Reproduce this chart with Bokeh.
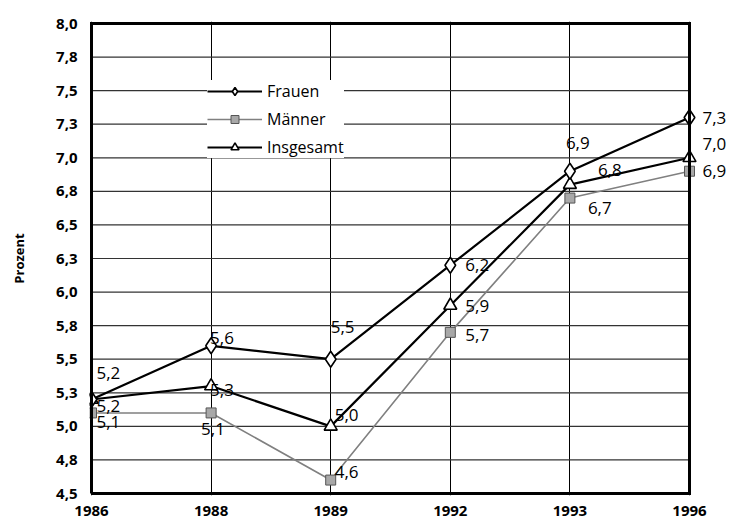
from bokeh.plotting import figure
from bokeh.models import (ColumnDataSource, Range1d, FixedTicker, Label,
                          Legend, LegendItem)
from bokeh.embed import file_html
from bokeh.resources import INLINE

# ---- data ----
years = ["1986", "1988", "1989", "1992", "1993", "1996"]
frauen = [5.2, 5.6, 5.5, 6.2, 6.9, 7.3]
maenner = [5.1, 5.1, 4.6, 5.7, 6.7, 6.9]
insgesamt = [5.2, 5.3, 5.0, 5.9, 6.8, 7.0]
y_ticks = [4.5, 4.75, 5.0, 5.25, 5.5, 5.75, 6.0, 6.25, 6.5, 6.75, 7.0, 7.25, 7.5, 7.75, 8.0]
y_tick_labels = ["4,5", "4,8", "5,0", "5,3", "5,5", "5,8", "6,0", "6,3", "6,5", "6,8",
                 "7,0", "7,3", "7,5", "7,8", "8,0"]

# label placement (screen px offsets)
frauen_dx = [5, -1, 0, 15, -4, 13]
frauen_dy = [27, 8, 32, 0, 28, 0]
maenner_dx = [5, -10, 4, 15, 18, 13]
maenner_dy = [-9, -16, 8, -3, -10, 0]
insg_dx = [5, -1, 4, 15, 28, 13]
insg_dy = [-6, -4, 11, 0, 15, 14]

FONT = "Open Sans"
xs = list(range(len(years)))

def fmt(v):
    return ("%.1f" % v).replace(".", ",")

# layout: plot box 598x470 px, frame padded so border and right labels are not clipped
PW, PH = 598, 470
PAD_L, PAD_R, PAD_V = 2, 42, 2
ux = PW / (xs[-1] - xs[0])
uy = PH / (y_ticks[-1] - y_ticks[0])
x_rng = Range1d(xs[0] - PAD_L / ux, xs[-1] + PAD_R / ux)
y_rng = Range1d(y_ticks[0] - PAD_V / uy, y_ticks[-1] + PAD_V / uy)

p = figure(frame_width=PW + PAD_L + PAD_R, frame_height=PH + 2 * PAD_V,
           output_backend="svg", toolbar_location=None,
           x_range=x_rng, y_range=y_rng,
           min_border_left=89, min_border_right=0, min_border_top=21, min_border_bottom=24)
p.background_fill_color = "white"
p.border_fill_color = "white"
p.outline_line_color = None

# axes
p.xaxis.ticker = FixedTicker(ticks=xs)
p.xaxis.major_label_overrides = {i: y for i, y in enumerate(years)}
p.yaxis.ticker = FixedTicker(ticks=y_ticks)
p.yaxis.major_label_overrides = {t: l for t, l in zip(y_ticks, y_tick_labels)}
for ax in (p.xaxis[0], p.yaxis[0]):
    ax.axis_line_color = None
    ax.major_tick_line_color = None
    ax.minor_tick_line_color = None
    ax.major_label_text_font = FONT
    ax.major_label_text_font_style = "bold"
    ax.major_label_text_font_size = "15px"
    ax.major_label_text_color = "black"
p.xaxis.major_label_standoff = 4
p.yaxis.major_label_standoff = 6
p.yaxis.axis_label = "Prozent"
p.yaxis.axis_label_text_font = FONT
p.yaxis.axis_label_text_font_style = "bold"
p.yaxis.axis_label_text_font_size = "13px"
p.yaxis.axis_label_text_color = "black"
p.yaxis.axis_label_standoff = 25

p.xgrid.grid_line_color = "black"
p.xgrid.grid_line_width = 1
p.ygrid.visible = False

# horizontal grid lines limited to the plot box
p.segment(x0=[xs[0]] * len(y_ticks), x1=[xs[-1]] * len(y_ticks), y0=y_ticks, y1=y_ticks,
          line_color="#333333", line_width=1.2)

src = ColumnDataSource(dict(x=xs, f=frauen, m=maenner, g=insgesamt))

ml = p.line("x", "m", source=src, line_color="#808080", line_width=1.6)
ms = p.scatter("x", "m", source=src, marker="square", size=10, fill_color="#a8a8a8",
               line_color="#555555", line_width=1)
gl = p.line("x", "g", source=src, line_color="black", line_width=2.2)
gs = p.scatter("x", "g", source=src, marker="triangle", size=13, fill_color="white",
               line_color="black", line_width=1.6)
fl = p.line("x", "f", source=src, line_color="black", line_width=2.2)
fs = p.scatter("x", "f", source=src, marker="diamond", size=16, fill_color="white",
               line_color="black", line_width=1.6)

# plot box border
bx = [xs[0], xs[0], xs[-1], xs[-1], xs[0]]
by = [y_ticks[0], y_ticks[-1], y_ticks[-1], y_ticks[0], y_ticks[0]]
p.line(bx, by, line_color="black", line_width=3, line_join="miter")

for vals, dxs, dys in ((frauen, frauen_dx, frauen_dy), (maenner, maenner_dx, maenner_dy),
                       (insgesamt, insg_dx, insg_dy)):
    for x, v, dx, dy in zip(xs, vals, dxs, dys):
        p.add_layout(Label(x=x, y=v, text=fmt(v), x_offset=dx, y_offset=dy,
                           text_font=FONT, text_font_size="17px", text_color="black",
                           text_align="left", text_baseline="middle"))

legend = Legend(items=[LegendItem(label="Frauen", renderers=[fl, fs]),
                       LegendItem(label="Männer", renderers=[ml, ms]),
                       LegendItem(label="Insgesamt", renderers=[gl, gs])],
                location=(118, 337), glyph_width=55, glyph_height=20, label_height=20,
                spacing=6, padding=5, label_standoff=5,
                label_text_font=FONT, label_text_font_size="16px",
                label_text_color="black",
                background_fill_color="white", background_fill_alpha=1.0,
                border_line_color=None)
p.add_layout(legend)

open("out.html", "w").write(file_html(p, INLINE))
